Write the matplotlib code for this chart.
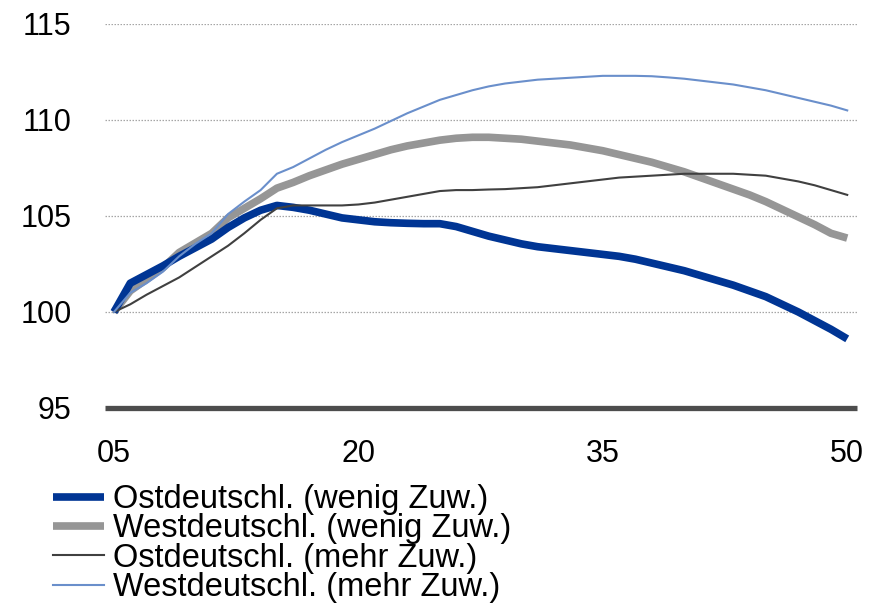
import matplotlib
matplotlib.use("Agg")
import matplotlib.pyplot as plt
from matplotlib.ticker import FixedLocator, FixedFormatter

plt.rcParams["font.family"] = ["Liberation Sans", "DejaVu Sans"]

years = list(range(2005, 2051))

ost_wenig = [
    100.0, 101.5, 101.95, 102.4, 102.9, 103.35, 103.8, 104.4, 104.9, 105.3,
    105.55, 105.45, 105.3, 105.1, 104.9, 104.8, 104.7, 104.65, 104.62, 104.6,
    104.6, 104.45, 104.2, 103.95, 103.75, 103.55, 103.4, 103.3, 103.2, 103.1,
    103.0, 102.9, 102.75, 102.55, 102.35, 102.15, 101.9, 101.65, 101.4, 101.1,
    100.8, 100.4, 100.0, 99.55, 99.1, 98.6,
]
west_wenig = [
    100.0, 101.1, 101.7, 102.3, 103.1, 103.6, 104.1, 104.9, 105.4, 105.9,
    106.45, 106.75, 107.1, 107.4, 107.7, 107.95, 108.2, 108.45, 108.65, 108.8,
    108.95, 109.05, 109.1, 109.1, 109.05, 109.0, 108.9, 108.8, 108.7, 108.55,
    108.4, 108.2, 108.0, 107.8, 107.55, 107.3, 107.0, 106.7, 106.4, 106.1,
    105.75, 105.35, 104.95, 104.55, 104.1, 103.85,
]
ost_mehr = [
    100.0, 100.4, 100.9, 101.35, 101.8, 102.35, 102.9, 103.45, 104.1, 104.8,
    105.4, 105.55, 105.55, 105.55, 105.55, 105.6, 105.7, 105.85, 106.0, 106.15,
    106.3, 106.35, 106.35, 106.38, 106.4, 106.45, 106.5, 106.6, 106.7, 106.8,
    106.9, 107.0, 107.05, 107.1, 107.15, 107.2, 107.2, 107.2, 107.2, 107.15,
    107.1, 106.95, 106.8, 106.6, 106.35, 106.1,
]
west_mehr = [
    100.0, 101.0, 101.5, 102.1, 102.9, 103.55, 104.1, 105.1, 105.75, 106.35,
    107.2, 107.55, 108.0, 108.45, 108.85, 109.2, 109.55, 109.95, 110.35, 110.7,
    111.05, 111.3, 111.55, 111.75, 111.9, 112.0, 112.1, 112.15, 112.2, 112.25,
    112.3, 112.3, 112.3, 112.28, 112.22, 112.15, 112.05, 111.95, 111.85, 111.7,
    111.55, 111.35, 111.15, 110.95, 110.75, 110.5,
]

labels = [
    "Ostdeutschl. (wenig Zuw.)",
    "Westdeutschl. (wenig Zuw.)",
    "Ostdeutschl. (mehr Zuw.)",
    "Westdeutschl. (mehr Zuw.)",
]

x_ticks = [2005, 2020, 2035, 2050]
x_tick_labels = ["05", "20", "35", "50"]
y_ticks = [95, 100, 105, 110, 115]

fig = plt.figure(figsize=(8.82, 6.06), dpi=100)
ax = fig.add_axes([105 / 882, 1 - 408 / 606, (857 - 105) / 882, (408 - 24) / 606])

ax.set_xlim(2004.45, 2050.6)
ax.set_ylim(95, 115)

# dotted horizontal gridlines
for yv in y_ticks[1:]:
    ax.axhline(yv, color="#a6a6a6", lw=0.9, ls=(0, (1.2, 1.2)), zorder=1)

l1, = ax.plot(years, ost_wenig, color="#003594", lw=5.5, solid_capstyle="butt", zorder=4)
l2, = ax.plot(years, west_wenig, color="#969696", lw=5.5, solid_capstyle="butt", zorder=3)
l3, = ax.plot(years, ost_mehr, color="#404040", lw=1.5, zorder=5)
l4, = ax.plot(years, west_mehr, color="#6a8fcb", lw=1.5, zorder=5)

for side in ("top", "right", "left"):
    ax.spines[side].set_visible(False)
ax.spines["bottom"].set_color("#4d4d4d")
ax.spines["bottom"].set_linewidth(3.8)
ax.spines["bottom"].set_capstyle("butt")

ax.xaxis.set_major_locator(FixedLocator(x_ticks))
ax.xaxis.set_major_formatter(FixedFormatter(x_tick_labels))
ax.set_yticks(y_ticks)
ax.tick_params(axis="both", length=0, labelsize=22, colors="black")
ax.tick_params(axis="x", pad=22)
ax.tick_params(axis="y", pad=24)

fig.legend(
    [l1, l2, l3, l4], labels,
    loc="upper left", bbox_to_anchor=(53 / 882, 1 - 484 / 606),
    frameon=False, fontsize=23.5, handlelength=1.55, handletextpad=0.3,
    labelspacing=-0.05, borderpad=0, borderaxespad=0,
)

fig.savefig("out.png", dpi=100)
